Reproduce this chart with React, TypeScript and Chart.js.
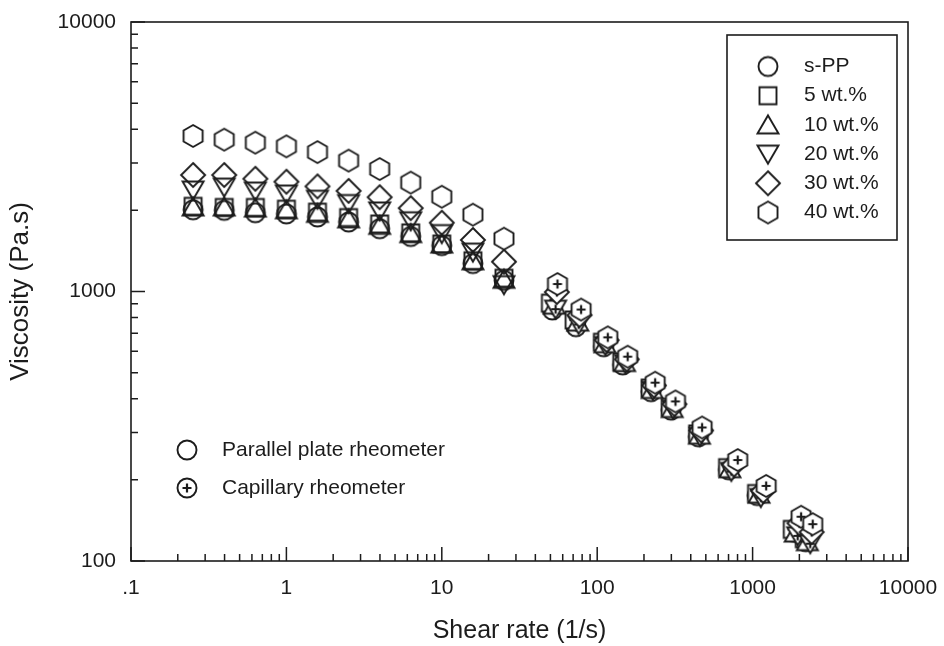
import React, { useEffect, useRef } from 'react';
import { Chart, registerables } from 'chart.js';

Chart.register(...registerables);

// ---------- data ----------
const seriesLabels = ['s-PP', '5 wt.%', '10 wt.%', '20 wt.%', '30 wt.%', '40 wt.%'];
const seriesShapes = ['circle', 'square', 'triangle', 'triangleDown', 'diamond', 'hexagon'];

// Parallel plate rheometer (shared shear rates, 1/s)
const plateShearRate = [0.251, 0.398, 0.631, 1, 1.585, 2.512, 3.981, 6.31, 10, 15.85, 25.12];
const plate_sPP = [2010, 2000, 1960, 1940, 1890, 1810, 1710, 1600, 1480, 1270, 1100];
const plate_5 = [2070, 2050, 2050, 2020, 1970, 1880, 1780, 1650, 1500, 1300, 1120];
const plate_10 = [2060, 2060, 2040, 2010, 1950, 1860, 1760, 1640, 1500, 1300, 1110];
const plate_20 = [2380, 2440, 2360, 2300, 2200, 2120, 1990, 1830, 1640, 1400, 1060];
const plate_30 = [2705, 2705, 2620, 2555, 2454, 2362, 2238, 2038, 1800, 1553, 1290];
const plate_40 = [3776, 3660, 3566, 3456, 3290, 3060, 2848, 2536, 2248, 1928, 1571];

// Capillary rheometer (each series has its own shear rates)
const cap_sPP_x = [51.5, 73, 110, 146, 222, 299, 448, 700, 1070, 1850, 2200];
const cap_sPP_y = [854, 740, 624, 534, 425, 363, 289, 218, 175, 128, 118];
const cap_5_x = [50, 71, 108, 144, 219, 295, 443, 690, 1060, 1800, 2150];
const cap_5_y = [905, 784, 648, 548, 438, 372, 296, 222, 178, 131, 121];
const cap_10_x = [53, 75, 112, 150, 226, 304, 455, 715, 1100, 1880, 2250];
const cap_10_y = [890, 770, 640, 545, 433, 368, 293, 220, 177, 127, 118];
const cap_20_x = [54, 76, 113, 152, 228, 308, 458, 730, 1130, 1950, 2350];
const cap_20_y = [860, 755, 630, 540, 430, 366, 290, 215, 172, 124, 116];
const cap_30_x = [55, 77, 115, 155, 232, 314, 466, 760, 1170, 2000, 2400];
const cap_30_y = [995, 817, 660, 560, 448, 382, 305, 228, 182, 138, 128];
const cap_40_x = [55.5, 78.8, 117, 157, 236, 319, 473, 802, 1222, 2051, 2438];
const cap_40_y = [1066, 857, 676, 573, 459, 391, 313, 237, 190, 146, 137];

const plateSeries = [plate_sPP, plate_5, plate_10, plate_20, plate_30, plate_40];
const capSeriesX = [cap_sPP_x, cap_5_x, cap_10_x, cap_20_x, cap_30_x, cap_40_x];
const capSeriesY = [cap_sPP_y, cap_5_y, cap_10_y, cap_20_y, cap_30_y, cap_40_y];

const xMajorTicks = [0.1, 1, 10, 100, 1000, 10000];
const yMajorTicks = [100, 1000, 10000];
const minorMultipliers = [2, 3, 4, 5, 6, 7, 8, 9];
const methodLabels = ['Parallel plate rheometer', 'Capillary rheometer'];

// ---------- styling ----------
const INK = '#1c1c1c';
const FONT = "'Liberation Sans', Arial, Helvetica, sans-serif";
const MARK = 30;

function tracePath(ctx: CanvasRenderingContext2D, shape: string, cx: number, cy: number) {
  ctx.beginPath();
  if (shape === 'circle') {
    ctx.arc(cx, cy, 9.5, 0, Math.PI * 2);
  } else if (shape === 'square') {
    ctx.rect(cx - 8.5, cy - 8.5, 17, 17);
  } else if (shape === 'triangle') {
    ctx.moveTo(cx, cy - 9.5);
    ctx.lineTo(cx + 10.5, cy + 8.5);
    ctx.lineTo(cx - 10.5, cy + 8.5);
    ctx.closePath();
  } else if (shape === 'triangleDown') {
    ctx.moveTo(cx, cy + 9.5);
    ctx.lineTo(cx + 10.5, cy - 8.5);
    ctx.lineTo(cx - 10.5, cy - 8.5);
    ctx.closePath();
  } else if (shape === 'diamond') {
    ctx.moveTo(cx, cy - 12);
    ctx.lineTo(cx + 12, cy);
    ctx.lineTo(cx, cy + 12);
    ctx.lineTo(cx - 12, cy);
    ctx.closePath();
  } else if (shape === 'hexagon') {
    for (let k = 0; k < 6; k++) {
      const ang = -Math.PI / 2 + (k * Math.PI) / 3;
      const px = cx + 11 * Math.cos(ang);
      const py = cy + 11 * Math.sin(ang);
      if (k === 0) ctx.moveTo(px, py);
      else ctx.lineTo(px, py);
    }
    ctx.closePath();
  }
}

function makeMarker(shape: string, withPlus: boolean): HTMLCanvasElement {
  const c = document.createElement('canvas');
  c.width = MARK;
  c.height = MARK;
  const ctx = c.getContext('2d') as CanvasRenderingContext2D;
  const m = MARK / 2;
  tracePath(ctx, shape, m, m);
  if (withPlus) {
    ctx.fillStyle = '#ffffff';
    ctx.fill();
  }
  ctx.lineWidth = 1.9;
  ctx.strokeStyle = INK;
  ctx.lineJoin = 'miter';
  ctx.stroke();
  if (withPlus) {
    ctx.beginPath();
    ctx.moveTo(m - 4.5, m);
    ctx.lineTo(m + 4.5, m);
    ctx.moveTo(m, m - 4.5);
    ctx.lineTo(m, m + 4.5);
    ctx.lineWidth = 2.2;
    ctx.stroke();
  }
  return c;
}

function zeroPadding(scale: any) {
  scale.paddingTop = 0;
  scale.paddingBottom = 0;
  scale.paddingLeft = 0;
  scale.paddingRight = 0;
}

export default function App() {
  const canvasRef = useRef<HTMLCanvasElement | null>(null);

  useEffect(() => {
    if (!canvasRef.current) return;
    const plainMarkers = seriesShapes.map((s) => makeMarker(s, false));
    const plusMarkers = seriesShapes.map((s) => makeMarker(s, true));

    const datasets: any[] = [];
    plateSeries.forEach((vals, i) => {
      datasets.push({
        label: seriesLabels[i],
        data: plateShearRate.map((x, j) => ({ x, y: vals[j] })),
        pointStyle: plainMarkers[i],
        pointRadius: 10,
        showLine: false,
        order: 20 - i,
      });
    });
    capSeriesX.forEach((xs, i) => {
      datasets.push({
        label: seriesLabels[i] + ' (capillary)',
        data: xs.map((x, j) => ({ x, y: capSeriesY[i][j] })),
        pointStyle: plusMarkers[i],
        pointRadius: 10,
        showLine: false,
        order: 5 - i,
      });
    });

    const decorPlugin = {
      id: 'decor',
      beforeDatasetsDraw(chart: any) {
        const { ctx, chartArea: a, scales } = chart;
        ctx.save();
        ctx.strokeStyle = INK;
        ctx.lineWidth = 1.6;
        ctx.strokeRect(a.left, a.top, a.right - a.left, a.bottom - a.top);
        ctx.lineWidth = 1.5;
        ctx.beginPath();
        xMajorTicks.forEach((d, di) => {
          const px = scales.x.getPixelForValue(d);
          ctx.moveTo(px, a.bottom);
          ctx.lineTo(px, a.bottom - 14);
          if (di < xMajorTicks.length - 1) {
            minorMultipliers.forEach((m) => {
              const q = scales.x.getPixelForValue(d * m);
              ctx.moveTo(q, a.bottom);
              ctx.lineTo(q, a.bottom - 7);
            });
          }
        });
        yMajorTicks.forEach((d, di) => {
          const py = scales.y.getPixelForValue(d);
          ctx.moveTo(a.left, py);
          ctx.lineTo(a.left + 14, py);
          if (di < yMajorTicks.length - 1) {
            minorMultipliers.forEach((m) => {
              const q = scales.y.getPixelForValue(d * m);
              ctx.moveTo(a.left, q);
              ctx.lineTo(a.left + 7, q);
            });
          }
        });
        ctx.stroke();
        ctx.restore();
      },
      afterDraw(chart: any) {
        const { ctx, chartArea: a } = chart;
        ctx.save();
        // series legend (upper right)
        ctx.strokeStyle = INK;
        ctx.lineWidth = 1.6;
        ctx.strokeRect(a.right - 181, a.top + 13, 170, 205);
        ctx.font = `21px ${FONT}`;
        ctx.fillStyle = INK;
        ctx.textBaseline = 'middle';
        ctx.textAlign = 'left';
        seriesLabels.forEach((lab, i) => {
          const cy = a.top + 44.5 + i * 29.2;
          ctx.drawImage(plainMarkers[i], a.right - 140 - MARK / 2, cy - MARK / 2);
          ctx.fillText(lab, a.right - 104, cy);
        });
        // method legend (lower left)
        const circ = [plainMarkers[0], plusMarkers[0]];
        methodLabels.forEach((lab, i) => {
          const cy = a.top + 428 + i * 38;
          ctx.drawImage(circ[i], a.left + 56 - MARK / 2, cy - MARK / 2);
          ctx.fillText(lab, a.left + 91, cy);
        });
        ctx.restore();
      },
    };

    const chart = new Chart(canvasRef.current, {
      type: 'scatter',
      data: { datasets },
      options: {
        animation: false,
        responsive: true,
        maintainAspectRatio: false,
        layout: { padding: { top: 22, right: 36, left: 0, bottom: 0 } },
        plugins: { legend: { display: false }, tooltip: { enabled: false } },
        scales: {
          x: {
            type: 'logarithmic',
            min: 0.1,
            max: 10000,
            grid: { display: false, drawTicks: false },
            border: { display: false },
            afterBuildTicks: (scale: any) => {
              scale.ticks = xMajorTicks.map((v) => ({ value: v }));
            },
            afterFit: (scale: any) => {
              scale.height = 85;
              zeroPadding(scale);
            },
            ticks: {
              autoSkip: false,
              maxRotation: 0,
              padding: 15,
              color: INK,
              font: { family: FONT, size: 21 },
              callback: (v: any) => (v === 0.1 ? '.1' : String(v)),
            },
            title: {
              display: true,
              text: 'Shear rate (1/s)',
              color: INK,
              font: { family: FONT, size: 25 },
              padding: { top: 0, bottom: 0 },
            },
          },
          y: {
            type: 'logarithmic',
            min: 100,
            max: 10000,
            grid: { display: false, drawTicks: false },
            border: { display: false },
            afterBuildTicks: (scale: any) => {
              scale.ticks = yMajorTicks.map((v) => ({ value: v }));
            },
            afterFit: (scale: any) => {
              scale.width = 131;
              zeroPadding(scale);
            },
            ticks: {
              autoSkip: false,
              padding: 15,
              color: INK,
              font: { family: FONT, size: 21 },
              callback: (v: any) => String(v),
            },
            title: {
              display: true,
              text: 'Viscosity (Pa.s)',
              color: INK,
              font: { family: FONT, size: 26 },
              padding: { top: 5, bottom: 0 },
            },
          },
        },
      },
      plugins: [decorPlugin],
    });

    return () => chart.destroy();
  }, []);

  return (
    <div style={{ position: 'fixed', left: 0, top: 0, width: 944, height: 646, background: '#fff' }}>
      <canvas ref={canvasRef} />
    </div>
  );
}
